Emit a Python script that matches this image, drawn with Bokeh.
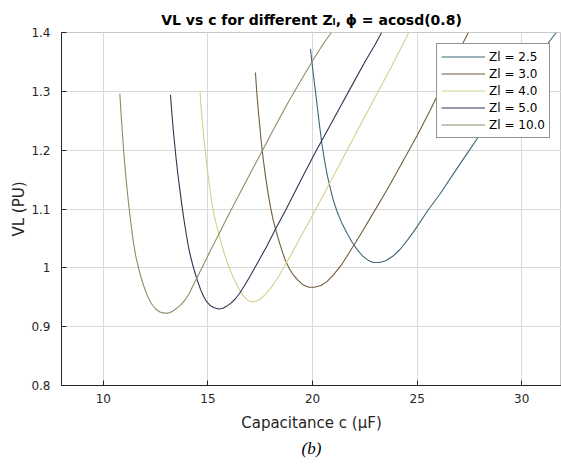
from bokeh.plotting import figure
from bokeh.models import Range1d, FixedTicker, Title, Legend, LegendItem
from bokeh.embed import file_html
from bokeh.resources import INLINE

# ---- data ----
series_names = ["Zl = 2.5", "Zl = 3.0", "Zl = 4.0", "Zl = 5.0", "Zl = 10.0"]

c_25 = [19.9, 19.97, 20.05, 20.14, 20.24, 20.34, 20.45, 20.57, 20.7, 20.85, 21.0, 21.18, 21.4,
        21.66, 21.9, 22.15, 22.4, 22.65, 22.9, 23.2, 23.5, 23.85, 24.2, 24.6, 25.0, 25.5, 26.1,
        26.7, 27.4, 28.03, 28.8, 29.6, 30.4, 31.0, 31.65]
v_25 = [1.372, 1.35, 1.325, 1.30, 1.27, 1.24, 1.21, 1.183, 1.158, 1.135, 1.114, 1.095, 1.076,
        1.058, 1.043, 1.03, 1.02, 1.013, 1.009, 1.009, 1.012, 1.02, 1.032, 1.05, 1.07, 1.097, 1.126,
        1.158, 1.195, 1.228, 1.267, 1.305, 1.343, 1.37, 1.40]

c_3 = [17.27, 17.33, 17.4, 17.48, 17.56, 17.65, 17.75, 17.86, 17.98, 18.1, 18.23, 18.4, 18.55,
       18.71, 18.9, 19.1, 19.3, 19.55, 19.82, 20.1, 20.4, 20.7, 21.0, 21.4, 21.81, 22.3, 22.8,
       23.57, 24.3, 25.0, 25.6, 26.2, 26.8, 27.45]
v_3 = [1.332, 1.30, 1.27, 1.24, 1.21, 1.183, 1.156, 1.13, 1.105, 1.084, 1.066, 1.045, 1.028,
       1.012, 0.998, 0.987, 0.979, 0.971, 0.967, 0.967, 0.97, 0.977, 0.988, 1.006, 1.029, 1.057, 1.087,
       1.133, 1.18, 1.225, 1.266, 1.31, 1.355, 1.40]

c_4 = [14.62, 14.68, 14.75, 14.82, 14.9, 14.98, 15.07, 15.17, 15.28, 15.4, 15.52, 15.65, 15.8,
       15.95, 16.1, 16.3, 16.5, 16.7, 16.9, 17.1, 17.3, 17.5, 17.75, 18.0, 18.3, 18.63, 19.0,
       19.5, 20.06, 20.7, 21.3, 21.9, 22.5, 23.1, 23.7, 24.2, 24.6]
v_4 = [1.30, 1.27, 1.24, 1.215, 1.19, 1.165, 1.14, 1.115, 1.092, 1.074, 1.058, 1.04, 1.022,
       1.007, 0.993, 0.977, 0.963, 0.952, 0.945, 0.942, 0.943, 0.947, 0.955, 0.965, 0.981, 1.001, 1.024,
       1.057, 1.093, 1.136, 1.176, 1.217, 1.257, 1.297, 1.337, 1.372, 1.40]

c_5 = [13.21, 13.27, 13.34, 13.41, 13.48, 13.56, 13.65, 13.74, 13.84, 13.95, 14.07, 14.2, 14.35,
       14.5, 14.65, 14.8, 14.95, 15.1, 15.3, 15.5, 15.7, 15.9, 16.1, 16.3, 16.5, 16.75, 17.0,
       17.35, 17.8, 18.23, 18.7, 19.1, 19.6, 20.14, 20.7, 21.3, 21.9, 22.5, 23.0, 23.3]
v_5 = [1.294, 1.265, 1.235, 1.21, 1.185, 1.16, 1.135, 1.11, 1.085, 1.06, 1.035, 1.015, 0.995,
       0.978, 0.963, 0.951, 0.942, 0.936, 0.932, 0.930, 0.931, 0.935, 0.94, 0.947, 0.956, 0.97, 0.985,
       1.007, 1.036, 1.066, 1.097, 1.125, 1.16, 1.197, 1.233, 1.272, 1.311, 1.35, 1.38, 1.40]

c_10 = [10.79, 10.85, 10.92, 10.98, 11.05, 11.13, 11.22, 11.32, 11.43, 11.55, 11.7, 11.85, 12.0,
        12.15, 12.3, 12.5, 12.7, 12.9, 13.1, 13.3, 13.5, 13.7, 13.9, 14.1, 14.3, 14.5, 14.8,
        15.1, 15.5, 16.0, 16.5, 17.0, 17.6, 18.2, 18.8, 19.4, 19.95, 20.5, 20.9]
v_10 = [1.296, 1.26, 1.225, 1.195, 1.165, 1.135, 1.105, 1.075, 1.045, 1.02, 0.997, 0.978, 0.962,
        0.949, 0.939, 0.93, 0.925, 0.923, 0.923, 0.926, 0.931, 0.937, 0.945, 0.956, 0.971, 0.985, 1.006,
        1.028, 1.056, 1.091, 1.125, 1.159, 1.199, 1.24, 1.279, 1.316, 1.349, 1.38, 1.40]

x_ticks = [10, 15, 20, 25, 30]
y_ticks = [0.8, 0.9, 1.0, 1.1, 1.2, 1.3, 1.4]
y_tick_labels = ["0.8", "0.9", "1", "1.1", "1.2", "1.3", "1.4"]

colors = ["#3d6676", "#725d3c", "#d6d08a", "#373150", "#8d8c68"]

FONT = "DejaVu Sans"
TXT = "#262626"

p = figure(width=561, height=464, output_backend="svg", toolbar_location=None,
           x_range=Range1d(8, 31.9), y_range=Range1d(0.8, 1.4),
           min_border_left=61, min_border_right=0, min_border_top=32, min_border_bottom=79)

p.title.text = "VL vs c for different Z\u2097, \u03d5 = acosd(0.8)"
p.title.text_font = FONT
p.title.text_font_size = "14px"
p.title.text_font_style = "bold"
p.title.align = "center"
p.title.text_color = "black"

p.add_layout(Title(text="(b)", align="center", text_font="Liberation Serif",
                   text_font_style="italic", text_font_size="17px", text_color="black",
                   standoff=5), "below")

xs = [c_25, c_3, c_4, c_5, c_10]
ys = [v_25, v_3, v_4, v_5, v_10]
items = []
for name, x, y, col in zip(series_names, xs, ys, colors):
    r = p.line(x, y, line_color=col, line_width=1.1, line_join="round")
    items.append(LegendItem(label=name, renderers=[r]))

legend = Legend(items=items, location="top_right", margin=11, padding=4, spacing=0,
                glyph_width=44, glyph_height=17, label_height=17, label_standoff=4,
                label_text_font=FONT, label_text_font_size="12px", label_text_color="black",
                border_line_color="#262626", border_line_width=1,
                background_fill_color="white", background_fill_alpha=1.0)
p.add_layout(legend, "center")

p.xaxis.axis_label = "Capacitance c (\u03bcF)"
p.yaxis.axis_label = "VL (PU)"
for ax in (p.xaxis, p.yaxis):
    ax.axis_label_text_font = FONT
    ax.axis_label_text_font_size = "15px"
    ax.axis_label_text_font_style = "normal"
    ax.axis_label_text_color = TXT
    ax.major_label_text_font = FONT
    ax.major_label_text_font_size = "12px"
    ax.major_label_text_color = TXT
    ax.axis_line_color = TXT
    ax.major_tick_line_color = TXT
    ax.major_tick_in = 5
    ax.major_tick_out = 0
    ax.minor_tick_line_color = None

p.xaxis.ticker = FixedTicker(ticks=x_ticks)
p.yaxis.ticker = FixedTicker(ticks=y_ticks)
p.yaxis.major_label_overrides = {t: s for t, s in zip(y_ticks, y_tick_labels)}
p.xaxis.major_label_standoff = 8
p.yaxis.major_label_standoff = 11
p.xaxis.axis_label_standoff = 8
p.yaxis.axis_label_standoff = 0

p.xgrid.ticker = FixedTicker(ticks=x_ticks)
p.ygrid.ticker = FixedTicker(ticks=y_ticks)
p.grid.grid_line_color = "#d9d9d9"
p.grid.grid_line_width = 1
p.outline_line_color = "#c8c8c8"
p.background_fill_color = "white"
p.border_fill_color = "white"

open("out.html", "w").write(file_html(p, INLINE))
